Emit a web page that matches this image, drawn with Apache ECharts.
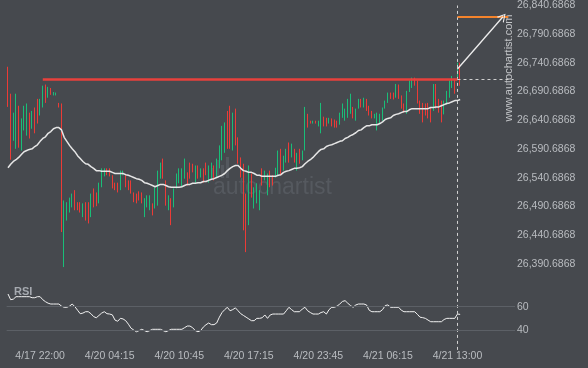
<!DOCTYPE html>
<html>
<head>
<meta charset="utf-8">
<script src="https://cdn.jsdelivr.net/npm/echarts@6/dist/echarts.min.js"></script>
<style>
html,body{margin:0;padding:0;background:#46494e;}
#chart{width:588px;height:368px;}
</style>
</head>
<body>
<div id="chart"></div>
<script>
// ---- data ----
// candles: [open, close, low, high]
const candles = [
[26732,26666,26664,26734],[26682,26588,26572,26687],[26609,26652,26605,26654],[26605,26684,26591,26687],[26663,26605,26593,26666],
[26597,26640,26588,26644],[26626,26663,26623,26666],[26623,26666,26614,26670],[26649,26614,26609,26654],[26630,26654,26626,26657],
[26657,26623,26618,26663],[26675,26640,26635,26678],[26654,26675,26649,26678],[26666,26697,26663,26701],[26699,26675,26671,26703],
[26684,26696,26680,26699],[26696,26687,26685,26697],[26685,26689,26684,26690],[26685,26689,26684,26689],[26670,26664,26663,26671],
[26668,26449,26446,26670],[26440,26498,26385,26501],[26470,26494,26466,26498],[26484,26505,26480,26506],[26492,26510,26489,26513],
[26515,26487,26484,26519],[26496,26485,26484,26498],[26496,26482,26480,26498],[26475,26492,26472,26496],[26494,26470,26466,26498],
[26494,26465,26461,26498],[26475,26510,26472,26513],[26519,26492,26489,26522],[26512,26494,26491,26515],[26501,26529,26496,26532],
[26527,26550,26524,26557],[26546,26553,26543,26557],[26555,26546,26545,26557],[26555,26546,26543,26557],[26543,26525,26522,26545],
[26531,26520,26519,26532],[26531,26519,26515,26532],[26522,26550,26519,26553],[26546,26552,26545,26553],[26543,26527,26524,26545],
[26534,26520,26519,26536],[26532,26515,26513,26536],[26513,26499,26498,26515],[26512,26501,26496,26513],[26515,26503,26501,26517],
[26513,26498,26496,26515],[26477,26501,26472,26505],[26492,26508,26489,26510],[26487,26506,26484,26510],[26494,26479,26475,26496],
[26491,26520,26487,26524],[26501,26550,26492,26553],[26543,26564,26539,26567],[26571,26543,26539,26574],[26532,26496,26492,26536],
[26487,26506,26484,26510],[26501,26463,26458,26505],[26492,26519,26489,26522],[26525,26545,26522,26548],[26534,26553,26531,26557],
[26527,26553,26524,26557],[26543,26571,26539,26574],[26548,26529,26527,26550],[26564,26543,26539,26567],[26564,26552,26550,26565],
[26536,26558,26532,26562],[26558,26543,26539,26562],[26543,26555,26541,26557],[26555,26536,26532,26557],[26565,26546,26545,26567],
[26536,26558,26532,26562],[26543,26564,26539,26567],[26558,26539,26536,26562],[26545,26571,26541,26574],[26562,26593,26557,26597],
[26576,26626,26571,26631],[26588,26633,26584,26637],[26654,26595,26591,26657],[26661,26595,26591,26666],[26591,26649,26588,26654],
[26657,26602,26597,26661],[26607,26569,26565,26611],[26574,26545,26541,26576],[26560,26456,26449,26565],[26506,26432,26411,26513],
[26463,26553,26458,26562],[26545,26510,26506,26548],[26492,26519,26487,26524],[26501,26527,26496,26531],[26487,26515,26484,26519],
[26553,26531,26527,26557],[26539,26550,26536,26553],[26515,26543,26510,26548],[26550,26527,26524,26553],[26543,26531,26527,26545],
[26543,26553,26541,26558],[26550,26583,26545,26588],[26588,26550,26545,26591],[26557,26576,26553,26579],[26571,26588,26567,26591],
[26598,26571,26567,26602],[26579,26597,26576,26600],[26588,26571,26567,26591],[26557,26581,26553,26584],[26588,26569,26565,26591],
[26574,26584,26571,26588],[26591,26657,26588,26664],[26651,26630,26628,26652],[26638,26637,26635,26640],[26637,26638,26635,26640],
[26638,26637,26635,26640],[26630,26640,26630,26640],[26623,26666,26618,26671],[26645,26631,26630,26647],[26644,26631,26630,26645],
[26635,26644,26635,26645],[26642,26630,26630,26644],[26640,26630,26628,26642],[26638,26630,26628,26640],[26635,26654,26633,26654],
[26645,26668,26645,26670],[26649,26657,26640,26661],[26649,26675,26645,26678],[26657,26684,26652,26687],[26663,26645,26644,26664],
[26644,26657,26640,26661],[26663,26675,26661,26678],[26675,26664,26663,26678],[26664,26678,26663,26680],[26677,26661,26657,26678],
[26664,26652,26649,26666],[26656,26645,26644,26657],[26645,26651,26644,26652],[26630,26649,26623,26654],[26637,26649,26635,26652],
[26644,26661,26640,26663],[26663,26673,26661,26675],[26673,26687,26671,26689],[26687,26680,26678,26689],[26687,26678,26677,26689],
[26682,26701,26680,26704],[26699,26680,26678,26703],[26680,26663,26661,26684],[26666,26657,26654,26670],[26657,26689,26652,26692],
[26692,26704,26690,26710],[26703,26711,26697,26715],[26713,26704,26701,26715],[26706,26675,26670,26710],[26673,26657,26652,26675],
[26668,26644,26637,26671],[26668,26652,26649,26670],[26666,26647,26644,26671],[26657,26642,26637,26663],[26661,26699,26657,26704],
[26701,26666,26661,26704],[26675,26657,26654,26678],[26671,26644,26637,26675],[26654,26670,26651,26675],[26671,26689,26668,26692],
[26682,26704,26680,26710],[26699,26715,26697,26718],[26711,26699,26687,26713],[26715,26739,26713,26741],[26737,26710,26701,26741]
];

const movingAverage = [
26558,26564,26569,26572,26576,26581,26586,26588,26590,26591,
26595,26598,26604,26609,26612,26618,26621,26626,26628,26628,
26624,26611,26604,26597,26591,26586,26579,26574,26569,26565,
26564,26560,26557,26553,26553,26552,26552,26552,26552,26550,
26548,26548,26548,26548,26546,26545,26543,26541,26539,26538,
26536,26532,26531,26529,26527,26525,26527,26529,26529,26527,
26525,26524,26524,26524,26524,26525,26527,26529,26529,26531,
26531,26532,26532,26534,26534,26536,26538,26539,26541,26543,
26545,26548,26553,26557,26560,26562,26562,26557,26553,26552,
26550,26550,26548,26545,26545,26543,26543,26543,26543,26543,
26543,26545,26546,26550,26552,26553,26555,26557,26557,26558,
26560,26565,26569,26572,26576,26581,26586,26590,26591,26595,
26597,26598,26600,26602,26604,26605,26609,26611,26614,26616,
26619,26623,26624,26628,26631,26631,26633,26633,26633,26635,
26638,26642,26644,26645,26649,26651,26652,26654,26656,26656,
26659,26661,26661,26661,26661,26661,26661,26661,26663,26663,
26664,26664,26666,26668,26670,26671,26673,26675,26675,26677
];

const rsiValues = [
70.9,66,66.5,68.6,68.6,68.6,68.6,68.6,68.6,67.7,
67.7,68.6,68.6,66,64.3,63,62.3,62.3,62.3,62.3,
60.5,59.5,59.5,60.5,62.3,60,57,54,54.5,55.7,
55.7,54,51.5,50.5,52.5,54.5,55.7,54,53.7,53,
48.5,47.5,50,49.5,48,45,41.5,40,38.5,39.5,
40.6,39.5,38.5,39.5,40.6,40.6,40.6,40.6,39.5,38.5,
39.5,40.6,40.6,40.6,40.6,40.6,42,43.4,43.4,42,
39.5,38.5,39.5,42.5,44.5,46,44.6,44.6,46,51,
55,57.5,59.5,56.5,57.5,59,56.5,54,52.5,51,
49.5,48,48,50,50,50.5,52.9,50,52.9,53.7,
53.7,53.7,53.7,53.7,56.5,59.5,57.5,55.7,55.7,55.7,
58,59.5,56.5,55,53.7,53.7,53.7,55,55.7,53.7,
57.5,59.5,59.5,60.5,62.3,64.5,65.2,63,61,59.5,
61.5,62.3,62.3,62.3,61.5,57,55.7,55.7,55.7,55.7,
57.5,61,61.5,59.5,59.5,59.5,59.5,57,55.7,55.7,
55.7,55.7,55.7,53.5,51,50.6,50,48.5,47.1,47.1,
47.1,47.1,47.1,49,50,50,50,50,53.7,53.4
];

// axis slots (bars plus empty space to the right edge)
const slotCount = 190;
const categories = Array.from({length: slotCount}, (_, i) => String(i));

const xTickIndex = [12, 38, 64, 90, 116, 142, 168];
const xTickLabels = ['4/17 22:00', '4/20 04:15', '4/20 10:45', '4/20 17:15', '4/20 23:45', '4/21 06:15', '4/21 13:00'];

const yTickValues = [26390.6868, 26440.6868, 26490.6868, 26540.6868, 26590.6868, 26640.6868, 26690.6868, 26740.6868, 26790.6868, 26840.6868];
const yTickLabels = ['26,390.6868', '26,440.6868', '26,490.6868', '26,540.6868', '26,590.6868', '26,640.6868', '26,690.6868', '26,740.6868', '26,790.6868', '26,840.6868'];

const rsiTickValues = [40, 60];
const rsiTickLabels = ['40', '60'];

// pattern annotation
const resistanceLevel = 26713;
const resistanceStartIndex = 13;
const lastBarIndex = 168;
const targetLevel = 26821;
const targetEndIndex = 187;
const arrowStartPrice = 26730;
const arrowEndIndex = 185;
const rightEdgeIndex = 189;

// ---- chart ----
const chart = echarts.init(document.getElementById('chart'), null, {renderer: 'canvas'});
const labelColor = '#b9bcc0';
const font = '"Liberation Sans", Arial, sans-serif';

const option = {
  backgroundColor: '#46494e',
  animation: false,
  textStyle: {fontFamily: font},
  grid: [
    {left: 6.66, right: 73, top: 4.5, height: 345.4},
    {left: 6.66, right: 73, top: 283.4, height: 69.9}
  ],
  xAxis: [
    {type: 'category', gridIndex: 0, data: categories, boundaryGap: true,
     axisLine: {show: false}, axisTick: {show: false}, axisLabel: {show: false}, splitLine: {show: false}},
    {type: 'category', gridIndex: 1, data: categories, boundaryGap: true,
     axisLine: {show: false}, axisTick: {show: false}, splitLine: {show: false},
     axisLabel: {
       color: labelColor, fontSize: 10.5, fontFamily: font, margin: 3, verticalAlign: 'middle',
       interval: (index) => xTickIndex.indexOf(index) >= 0,
       formatter: (value, index) => { const k = xTickIndex.indexOf(index); return k >= 0 ? xTickLabels[k] : ''; }
     }}
  ],
  yAxis: [
    {type: 'value', gridIndex: 0, position: 'right', min: 26240.6868, max: 26840.6868, interval: 50, scale: true,
     axisLine: {show: false}, axisTick: {show: false}, splitLine: {show: false},
     axisLabel: {
       color: labelColor, fontSize: 10.5, fontFamily: font, margin: 2, align: 'left',
       formatter: (v) => { for (let k = 0; k < yTickValues.length; k++) { if (Math.abs(v - yTickValues[k]) < 0.05) return yTickLabels[k]; } return ''; }
     }},
    {type: 'value', gridIndex: 1, position: 'right', min: 20, max: 80, interval: 20,
     axisLine: {show: false}, axisTick: {show: false}, splitLine: {show: false},
     axisLabel: {
       color: labelColor, fontSize: 10.5, fontFamily: font, margin: 2, align: 'left',
       formatter: (v) => { const k = rsiTickValues.indexOf(Math.round(v)); return k >= 0 ? rsiTickLabels[k] : ''; }
     }}
  ],
  series: [
    {
      type: 'candlestick', xAxisIndex: 0, yAxisIndex: 0, data: candles, barWidth: 1,
      itemStyle: {color: '#19be78', color0: '#ec3b36', borderColor: '#19be78', borderColor0: '#ec3b36', borderWidth: 1},
      markLine: {
        silent: true, animation: false, symbol: ['none', 'none'], label: {show: false},
        emphasis: {disabled: true},
        data: [
          {xAxis: lastBarIndex, lineStyle: {color: '#d2d2d2', type: [3, 3], width: 1}},
          [{coord: [resistanceStartIndex, resistanceLevel], lineStyle: {color: '#e8413c', width: 2.5, type: 'solid'}},
           {coord: [lastBarIndex, resistanceLevel]}],
          [{coord: [lastBarIndex, resistanceLevel], lineStyle: {color: '#cfcfcf', width: 1, type: [3, 3]}},
           {coord: [rightEdgeIndex, resistanceLevel]}],
          [{coord: [lastBarIndex, targetLevel], lineStyle: {color: '#f5842c', width: 2, type: 'solid'}},
           {coord: [targetEndIndex, targetLevel]}],
          [{coord: [lastBarIndex, arrowStartPrice], symbol: 'none', lineStyle: {color: '#eeeeee', width: 1.3, type: 'solid'}},
           {coord: [arrowEndIndex, targetLevel], symbol: 'path://M0,10L5,0L10,10L8.6,10L5,2.6L1.4,10Z', symbolSize: [9, 8]}]
        ]
      }
    },
    {
      type: 'line', xAxisIndex: 0, yAxisIndex: 0, data: movingAverage, showSymbol: false, symbol: 'none',
      lineStyle: {color: '#e6e6e6', width: 1.5}, silent: true
    },
    {
      type: 'line', xAxisIndex: 1, yAxisIndex: 1, data: rsiValues, showSymbol: false, symbol: 'none',
      lineStyle: {color: '#f2f2f2', width: 1}, silent: true, z: 3,
      markLine: {
        silent: true, animation: false, symbol: ['none', 'none'], label: {show: false},
        lineStyle: {color: '#5c6066', width: 1, type: 'solid'},
        data: rsiTickValues.map(v => ({yAxis: v}))
      }
    }
  ],
  graphic: [
    {type: 'group', z: 0, silent: true, children: [
      {type: 'rect', shape: {x: 211, y: 168, width: 3, height: 10}, style: {fill: '#54585e'}},
      {type: 'rect', shape: {x: 216, y: 160, width: 3, height: 18}, style: {fill: '#54585e'}},
      {type: 'rect', shape: {x: 221, y: 165, width: 3, height: 13}, style: {fill: '#54585e'}},
      {type: 'rect', shape: {x: 226, y: 157, width: 3, height: 21}, style: {fill: '#54585e'}},
      {type: 'text', x: 213, y: 176, style: {text: 'autochartist', fill: '#55595f', font: '23px "Liberation Sans", Arial, sans-serif'}}
    ]},
    {type: 'text', x: 509, y: 68, rotation: Math.PI / 2, silent: true, z: 5,
     style: {text: 'www.autochartist.com', fill: '#c4c6c9', font: '11px "Liberation Sans", Arial, sans-serif', align: 'center', verticalAlign: 'middle'}},
    {type: 'text', x: 14, y: 286, silent: true, z: 5,
     style: {text: 'RSI', fill: '#a6aab0', font: 'bold 11px "Liberation Sans", Arial, sans-serif'}}
  ]
};
chart.setOption(option);
</script>
</body>
</html>
